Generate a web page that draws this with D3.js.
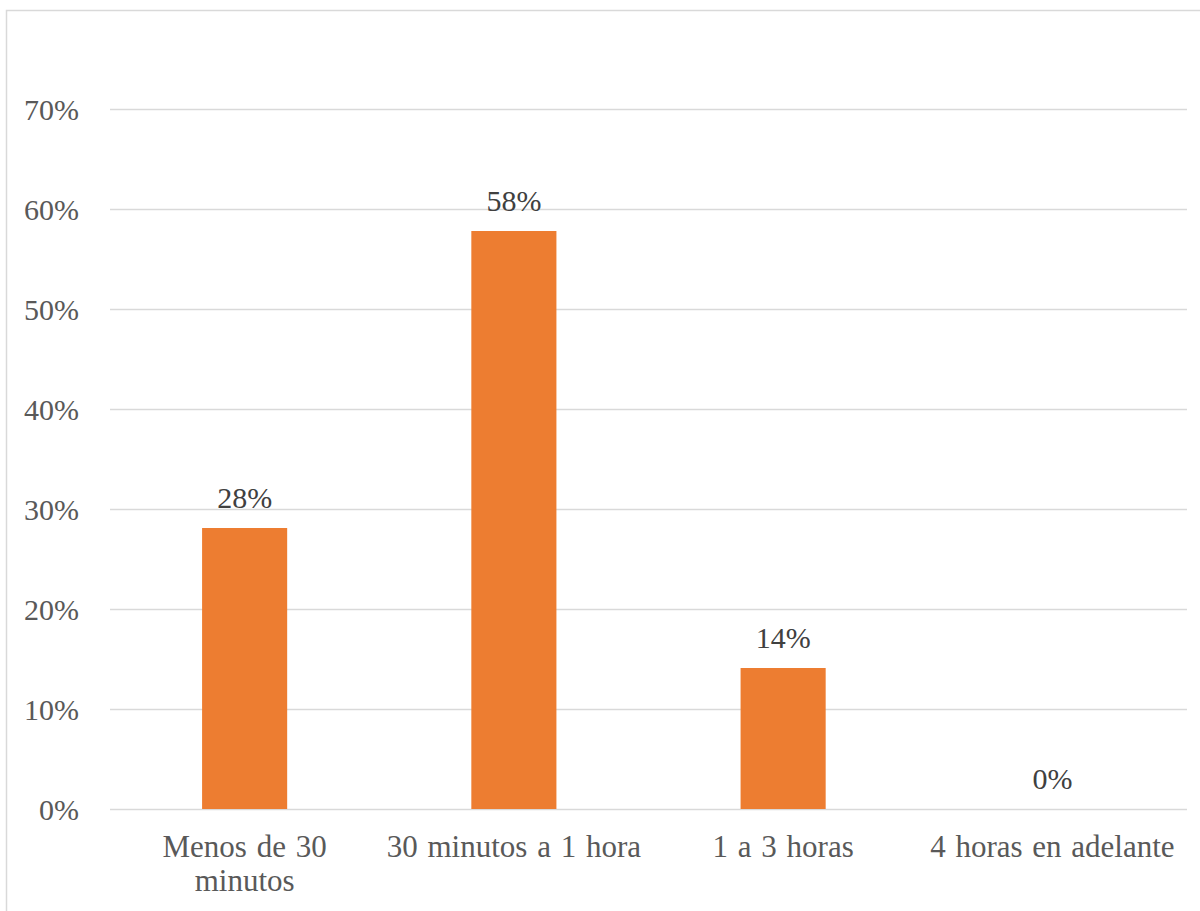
<!DOCTYPE html>
<html><head><meta charset="utf-8">
<script src="https://cdn.jsdelivr.net/npm/d3@7"></script>
</head><body style="margin:0">
<script>
const categories = [["Menos de 30","minutos"],["30 minutos a 1 hora"],["1 a 3 horas"],["4 horas en adelante"]];
const values = [28.1, 57.8, 14.1, 0];
const tickValues = [0,10,20,30,40,50,60,70];

const W = 1200, H = 911;
const FONT = "Liberation Serif";
const svg = d3.select("body").append("svg").attr("width", W).attr("height", H).style("display","block");

svg.append("rect").attr("x",6.5).attr("y",10.5).attr("width",1200).attr("height",1000)
  .attr("fill","#fff").attr("stroke","#d9d9d9").attr("stroke-width",1.5);

const x = d3.scaleBand().domain(categories.map((d,i)=>i)).range([110,1187]).paddingInner(0.684).paddingOuter(0.342);
const y = d3.scaleLinear().domain([0,70]).range([809,109]);

const yAxis = d3.axisLeft(y).tickValues(tickValues).tickFormat(d=>d+"%").tickSize(-(1187-110)).tickPadding(31);
const gy = svg.append("g").attr("transform","translate(110,0)").call(yAxis);
gy.attr("font-family",null).attr("font-size",null);
gy.select(".domain").remove();
gy.selectAll(".tick line").attr("stroke","#d9d9d9").attr("stroke-width",1.5);
gy.selectAll(".tick text").attr("fill","#595959").attr("dy","0.35em")
  .attr("font-family",FONT).attr("font-size",30);

svg.append("g").selectAll("text").data(values).join("text")
  .attr("font-family",FONT).attr("font-size",30)
  .attr("x",(d,i)=>x(i)+x.bandwidth()/2).attr("y",d=>y(d)-20)
  .attr("text-anchor","middle").attr("fill","#404040")
  .text(d=>d3.format(".0f")(d)+"%");

svg.append("g").selectAll("rect").data(values).join("rect")
  .attr("x",(d,i)=>x(i)).attr("width",x.bandwidth())
  .attr("y",d=>y(d)).attr("height",d=>y(0)-y(d)).attr("fill","#ED7D31");

const xl = svg.append("g");
categories.forEach((lines,i)=>{
  const cx = x(i)+x.bandwidth()/2;
  const t = xl.append("text").attr("x",cx).attr("y",857)
    .attr("font-family",FONT).attr("font-size",31).attr("word-spacing",2)
    .attr("text-anchor","middle").attr("fill","#595959");
  lines.forEach((l,j)=>t.append("tspan").attr("x",cx).attr("dy",j?34:0).text(l));
});
</script>
</body></html>
